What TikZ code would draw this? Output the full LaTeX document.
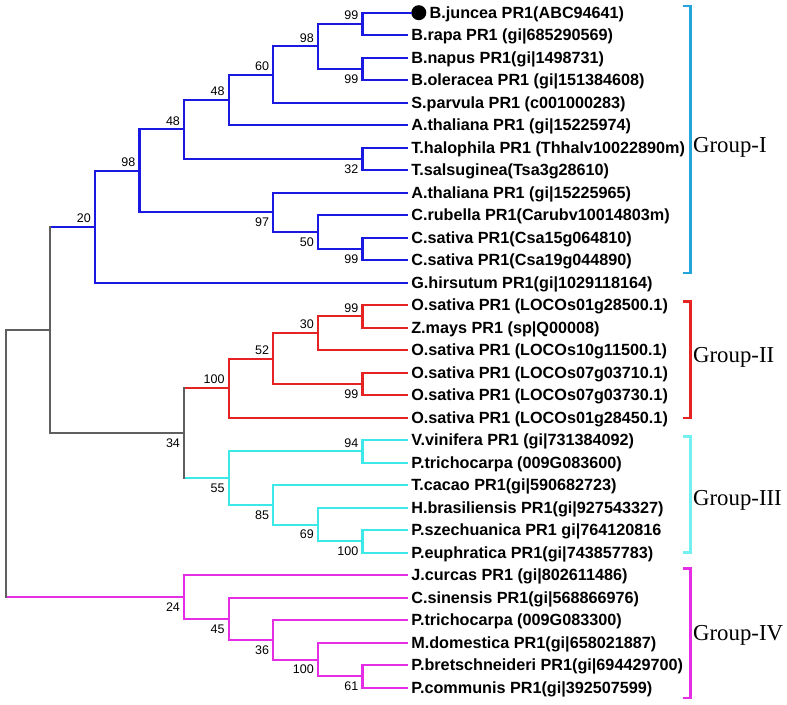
\documentclass[tikz,border=0pt]{standalone}
\usepackage{fontspec}
\setmainfont{Liberation Sans}
\newfontfamily\grpfont{Liberation Serif}
\usetikzlibrary{positioning}
\definecolor{cladeblue}{RGB}{25,25,225}
\definecolor{cladered}{RGB}{230,35,35}
\definecolor{cladecyan}{RGB}{60,232,232}
\definecolor{clademag}{RGB}{228,45,228}
\definecolor{cladegray}{RGB}{95,95,95}
\definecolor{brkone}{RGB}{35,165,220}
\definecolor{brkthree}{RGB}{115,240,240}
\tikzset{
  phbranch/.style={line width=2.1pt,line cap=rect},
  phgray/.style={line width=1.7pt,line cap=rect,cladegray},
  phleaf/.style={
    anchor=west, inner xsep=4pt, inner ysep=0pt,
    text height=11.5pt, text depth=0pt,
    font=\bfseries\fontsize{16.2}{18}\selectfont
  },
  phboot/.style={inner sep=1pt,font=\fontsize{12.5}{14}\selectfont},
  phbootup/.style={phboot,anchor=south east,xshift=-3pt,yshift=3pt},
  phbootdn/.style={phboot,anchor=north east,xshift=-3pt,yshift=-4.5pt},
  phbracket/.style={line width=2.8pt},
  phgroup/.style={
    anchor=west, inner sep=0pt, text height=15pt, text depth=0pt,
    font=\grpfont\fontsize{22.8}{26}\selectfont
  },
  phmark/.style={circle,fill=black,minimum size=15pt,inner sep=0pt}
}
\newcommand\clade[4]{\draw[phbranch,#1] (#3) -| (#2) |- (#4);}
\newcommand\boot[3]{\node[phboot#2] (b#1) at (#1) {#3};}

\begin{document}
\begin{tikzpicture}[x=44.6pt,y=22.5pt]
\useasboundingbox (-0.128,0.564) rectangle (17.518,-30.769);

% leaves
\node[phmark,anchor=west,xshift=4pt] (dot) at (9,0) {};
\node[phleaf,right=0pt of dot,inner xsep=3pt] (t0) {B.juncea PR1(ABC94641)};
\foreach \lab [count=\i] in {
  B.rapa PR1 (gi|685290569),
  B.napus PR1(gi|1498731),
  B.oleracea PR1 (gi|151384608),
  S.parvula PR1 (c001000283),
  A.thaliana PR1 (gi|15225974),
  T.halophila PR1 (Thhalv10022890m),
  T.salsuginea(Tsa3g28610),
  A.thaliana PR1 (gi|15225965),
  C.rubella PR1(Carubv10014803m),
  C.sativa PR1(Csa15g064810),
  C.sativa PR1(Csa19g044890),
  G.hirsutum PR1(gi|1029118164),
  O.sativa PR1 (LOCOs01g28500.1),
  Z.mays PR1 (sp|Q00008),
  O.sativa PR1 (LOCOs10g11500.1),
  O.sativa PR1 (LOCOs07g03710.1),
  O.sativa PR1 (LOCOs07g03730.1),
  O.sativa PR1 (LOCOs01g28450.1),
  V.vinifera PR1 (gi|731384092),
  P.trichocarpa (009G083600),
  T.cacao PR1(gi|590682723),
  H.brasiliensis PR1(gi|927543327),
  P.szechuanica PR1 gi|764120816,
  P.euphratica PR1(gi|743857783),
  J.curcas PR1 (gi|802611486),
  C.sinensis PR1(gi|568866976),
  P.trichocarpa (009G083300),
  M.domestica PR1(gi|658021887),
  P.bretschneideri PR1(gi|694429700),
  P.communis PR1(gi|392507599)}
  \node[phleaf] (t\i) at (9,-\i) {\lab};

% inner nodes, group I
\coordinate (jr) at (8,-0.5);
\coordinate (no) at (8,-2.5);
\coordinate (bra) at (7,-1.5);
\coordinate (spa) at (6,-2.75);
\coordinate (ath) at (5,-3.875);
\coordinate (thl) at (8,-6.5);
\coordinate (cru) at (4,-5.1875);
\coordinate (csa) at (8,-10.5);
\coordinate (crb) at (7,-9.75);
\coordinate (atb) at (6,-8.875);
\coordinate (bsc) at (3,-7.03125);
\coordinate (gI) at (2,-9.515625);
% group II
\coordinate (osz) at (8,-13.5);
\coordinate (osa) at (7,-14.25);
\coordinate (osb) at (8,-16.5);
\coordinate (osc) at (6,-15.375);
\coordinate (gII) at (5,-16.6875);
% group III
\coordinate (vvp) at (8,-19.5);
\coordinate (pse) at (8,-23.5);
\coordinate (hbr) at (7,-22.75);
\coordinate (tca) at (6,-21.875);
\coordinate (gIII) at (5,-20.6875);
% group IV
\coordinate (ppc) at (8,-29.5);
\coordinate (mdo) at (7,-28.75);
\coordinate (ptr) at (6,-27.875);
\coordinate (csi) at (5,-26.9375);
\coordinate (gIV) at (4,-25.96875);
% joins
\coordinate (gIIa) at (4,-18.6875);
\coordinate (gIb) at (1,-14.1015625);
\coordinate (root) at (0,-20.03515625);

\clade{cladeblue}{jr}{dot}{t1}
\clade{cladeblue}{no}{t2}{t3}
\clade{cladeblue}{bra}{jr}{no}
\clade{cladeblue}{spa}{bra}{t4}
\clade{cladeblue}{ath}{spa}{t5}
\clade{cladeblue}{thl}{t6}{t7}
\clade{cladeblue}{cru}{ath}{thl}
\clade{cladeblue}{csa}{t10}{t11}
\clade{cladeblue}{crb}{t9}{csa}
\clade{cladeblue}{atb}{t8}{crb}
\clade{cladeblue}{bsc}{cru}{atb}
\clade{cladeblue}{gI}{bsc}{t12}

\clade{cladered}{osz}{t13}{t14}
\clade{cladered}{osa}{osz}{t15}
\clade{cladered}{osb}{t16}{t17}
\clade{cladered}{osc}{osa}{osb}
\clade{cladered}{gII}{osc}{t18}

\clade{cladecyan}{vvp}{t19}{t20}
\clade{cladecyan}{pse}{t23}{t24}
\clade{cladecyan}{hbr}{t22}{pse}
\clade{cladecyan}{tca}{t21}{hbr}
\clade{cladecyan}{gIII}{vvp}{tca}

\clade{clademag}{ppc}{t29}{t30}
\clade{clademag}{mdo}{t28}{ppc}
\clade{clademag}{ptr}{t27}{mdo}
\clade{clademag}{csi}{t26}{ptr}
\clade{clademag}{gIV}{t25}{csi}

\draw[phbranch,cladered] (gII) -- (gIIa |- gII);
\draw[phbranch,cladecyan] (gIII) -- (gIIa |- gIII);
\draw[phgray] (gIIa |- gII) -- (gIIa |- gIII);
\draw[phbranch,cladeblue] (gI) -- (gIb |- gI);
\draw[phgray] (gIb |- gI) |- (gIIa);
\draw[phbranch,clademag] (gIV) -- (root |- gIV);
\draw[phgray] (root |- gIV) |- (gIb);

% bootstrap values
\boot{jr}{up}{99}
\boot{no}{dn}{99}
\boot{bra}{up}{98}
\boot{spa}{up}{60}
\boot{ath}{up}{48}
\boot{thl}{dn}{32}
\boot{cru}{up}{48}
\boot{csa}{dn}{99}
\boot{crb}{dn}{50}
\boot{atb}{dn}{97}
\boot{bsc}{up}{98}
\boot{gI}{up}{20}
\boot{osz}{up}{99}
\boot{osa}{up}{30}
\boot{osb}{dn}{99}
\boot{osc}{up}{52}
\boot{gII}{up}{100}
\boot{vvp}{up}{94}
\boot{pse}{dn}{100}
\boot{hbr}{dn}{69}
\boot{tca}{dn}{85}
\boot{gIII}{dn}{55}
\boot{gIIa}{dn}{34}
\boot{ppc}{dn}{61}
\boot{mdo}{dn}{100}
\boot{ptr}{dn}{36}
\boot{csi}{dn}{45}
\boot{gIV}{dn}{24}

% group brackets
\coordinate (kIt) at (15.36,0.3);
\coordinate (kIb) at (15.36,-11.57);
\coordinate (kIIt) at (15.36,-12.84);
\coordinate (kIIb) at (15.36,-18.01);
\coordinate (kIIIt) at (15.36,-18.84);
\coordinate (kIIIb) at (15.36,-24.0);
\coordinate (kIVt) at (15.36,-24.72);
\coordinate (kIVb) at (15.36,-30.46);
\draw[phbracket,brkone] ([xshift=-8pt]kIt) -- (kIt) -- (kIb) -- ([xshift=-8pt]kIb);
\draw[phbracket,cladered] ([xshift=-8pt]kIIt) -- (kIIt) -- (kIIb) -- ([xshift=-8pt]kIIb);
\draw[phbracket,brkthree] ([xshift=-8pt]kIIIt) -- (kIIIt) -- (kIIIb) -- ([xshift=-8pt]kIIIb);
\draw[phbracket,clademag] ([xshift=-8pt]kIVt) -- (kIVt) -- (kIVb) -- ([xshift=-8pt]kIVb);
\node[phgroup] (gl1) at (15.41,-5.88) {Group-I};
\node[phgroup] (gl2) at (15.41,-15.21) {Group-II};
\node[phgroup] (gl3) at (15.41,-21.57) {Group-III};
\node[phgroup] (gl4) at (15.41,-27.57) {Group-IV};
\end{tikzpicture}
\end{document}
